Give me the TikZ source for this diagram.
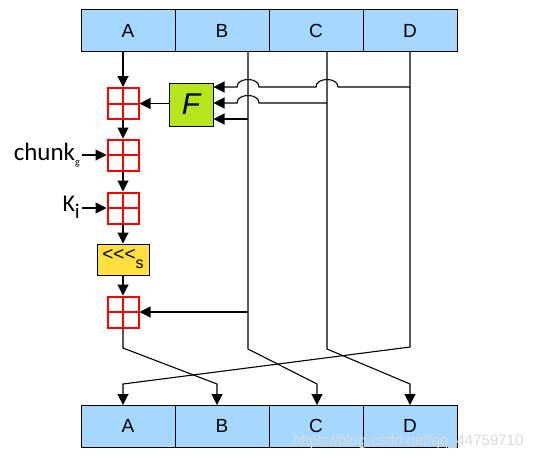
\documentclass[tikz,border=0pt]{standalone}
\usepackage{fontspec}
\setmainfont{Liberation Sans}
\newfontfamily\carlitofont{Carlito}
\usetikzlibrary{arrows.meta}
\definecolor{cellblue}{RGB}{166,216,255}
\definecolor{fgreen}{RGB}{181,230,29}
\definecolor{ryellow}{RGB}{255,224,60}
\tikzset{
  cell/.style={draw=black, line width=1pt, fill=cellblue, minimum width=94pt, minimum height=42pt, inner sep=0pt, font=\fontsize{19}{19}\selectfont},
  xorbox/.style={draw=red, line width=2pt, minimum size=31pt, inner sep=0pt, fill=white,
    path picture={\draw[red,line width=2pt] (path picture bounding box.north) -- (path picture bounding box.south) (path picture bounding box.west) -- (path picture bounding box.east);}},
  wire/.style={line width=1.1pt, black},
  arr/.style={wire, -{Triangle[length=11pt,width=11pt]}},
}
\begin{document}
\begin{tikzpicture}[x=1pt,y=-1pt]
\useasboundingbox (0,0) rectangle (548,461);
% top register
\node[cell] (tA) at (128,30.5) {A};
\node[cell] (tB) at (222,30.5) {B};
\node[cell] (tC) at (316,30.5) {C};
\node[cell] (tD) at (410,30.5) {D};
% bottom register
\node[cell] (bA) at (128,426) {A};
\node[cell] (bB) at (222,426) {B};
\node[cell] (bC) at (316,426) {C};
\node[cell] (bD) at (410,426) {D};
% operation boxes
\node[xorbox] (x1) at (123,103.5) {};
\node[xorbox] (x2) at (123,155) {};
\node[xorbox] (x3) at (123,208) {};
\node[draw=black, line width=1pt, fill=ryellow, minimum width=52pt, minimum height=31pt, inner sep=0pt, font=\fontsize{19}{19}\selectfont] (rot) at (123,259.5) {\raisebox{2pt}{<{}<{}<}\raisebox{-6pt}{\fontsize{16}{16}\selectfont s}};
\node[xorbox] (x4) at (123,312) {};
\node[draw=black, line width=1pt, fill=fgreen, minimum width=44pt, minimum height=43pt, inner sep=0pt, font=\fontsize{30}{30}\selectfont\itshape] (F) at (191,104.5) {F};
% labels
\node[anchor=east, inner sep=0pt, font=\carlitofont\fontsize{25}{25}\selectfont] (chunk) at (80,155) {chunk\raisebox{-5pt}{\fontsize{10}{10}\selectfont g}};
\node[anchor=east, inner sep=0pt, font=\carlitofont\fontsize{24}{24}\selectfont] (K) at (80,207) {K\raisebox{-7pt}{\fontsize{21}{21}\selectfont i}};
% coordinates
\coordinate (aTop) at (123,51.5);
\coordinate (bTop) at (248,51.5);
\coordinate (cTop) at (327,51.5);
\coordinate (dTop) at (410,51.5);
\coordinate (aBend) at (123,348);
\coordinate (aEnd) at (217,384);
\coordinate (aTip) at (217,405);
\coordinate (bBend) at (248,349);
\coordinate (bEnd) at (317,384);
\coordinate (bTip) at (317,405);
\coordinate (cBend) at (327,349);
\coordinate (cEnd) at (410,384);
\coordinate (cTip) at (410,405);
\coordinate (dBend) at (410,347);
\coordinate (dEnd) at (123,384);
\coordinate (dTip) at (123,405);
\coordinate (bF) at (248,119);
\coordinate (bX) at (248,312);
\coordinate (cF) at (327,103);
\coordinate (dF) at (410,87);
% main chain
\draw[arr] (aTop) -- (x1.north);
\draw[arr] (F.west |- x1) -- (x1.east);
\draw[arr] (x1.south) -- (x2.north);
\draw[arr] (x2.south) -- (x3.north);
\draw[arr] (x3.south) -- (rot.north);
\draw[arr] (rot.south) -- (x4.north);
\draw[arr] (chunk.east) ++(2,0) -- (x2.west);
\draw[arr] (82,208) -- (x3.west);
% vertical words
\draw[arr] (x4.south) -- (aBend) -- (aEnd) -- (aTip);
\draw[arr] (bTop) -- (bBend) -- (bEnd) -- (bTip);
\draw[arr] (cTop) -- (cBend) -- (cEnd) -- (cTip);
\draw[arr] (dTop) -- (dBend) -- (dEnd) -- (dTip);
% feeds into F and x4
\draw[arr] (bF) -- (F.east |- bF);
\draw[arr] (bX) -- (x4.east);
\draw[arr] (cF) -- (259,103) .. controls (259,93) and (237,93) .. (237,103) -- (F.east |- cF);
\draw[arr] (dF) -- (338,87) .. controls (338,77) and (316,77) .. (316,87) -- (259,87) .. controls (259,77) and (237,77) .. (237,87) -- (F.east |- dF);
% watermark
\node[anchor=west, inner sep=0pt, text=gray!30, font=\fontsize{15}{15}\selectfont] (wm) at (293,442) {https://blog.csdn.net/qq\_44759710};
\end{tikzpicture}
\end{document}
